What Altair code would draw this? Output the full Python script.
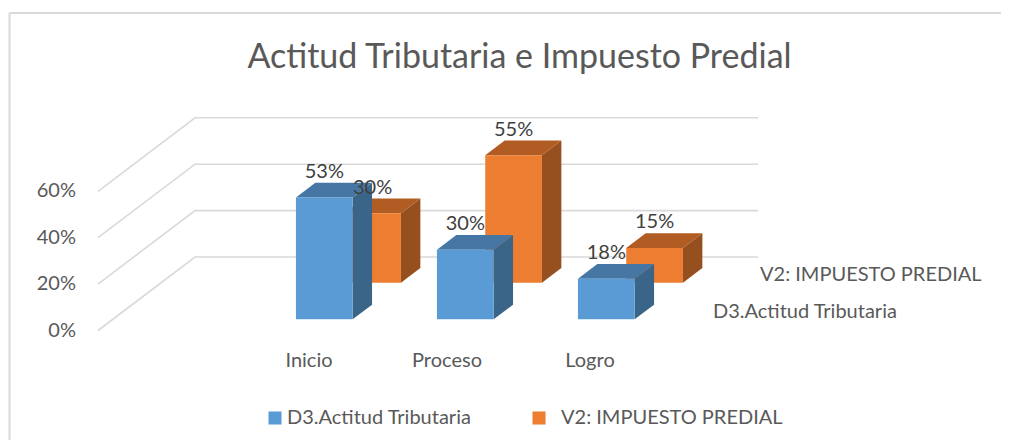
import altair as alt
import pandas as pd

# ---- chart values ----
categories = ["Inicio", "Proceso", "Logro"]
series_names = ["D3.Actitud Tributaria", "V2: IMPUESTO PREDIAL"]
blue_values = [52.5, 30, 17.5]
orange_values = [30, 55, 15]
blue_labels = ["53%", "30%", "18%"]
orange_labels = ["30%", "55%", "15%"]
axis_ticks = [0, 20, 40, 60]
title_text = "Actitud Tributaria e Impuesto Predial"

# ---- layout (screen px of the 1014x448 page, converted into scale units) ----
VIEW_W, VIEW_H = 998, 432
PX_PCT = 2.32        # pixels per percentage point
PX_CAT = 141.0       # pixels per category
X0, Y0 = 98.0, 330.5 # projected origin of the chart box
DEPTH_X, DEPTH_Y = 97.0, 73.5
WALL_RIGHT = 758.0

FRONT = "#5B9BD5", "#ED7D31"
TOPS = "#4676A3", "#B15C22"
SIDES = "#3B6588", "#964F1E"


def ux(px):
    return (px - X0) / PX_CAT


def uy(py):
    return (Y0 - py) / PX_PCT


def project(cat, z, pct):
    return cat + z * DEPTH_X / PX_CAT, pct + z * DEPTH_Y / PX_PCT


xscale = alt.Scale(domain=[ux(8), ux(8 + VIEW_W)], range=[0, VIEW_W], nice=False, zero=False)
yscale = alt.Scale(domain=[uy(8 + VIEW_H), uy(8)], range=[VIEW_H, 0], nice=False, zero=False)
X = alt.X("x:Q", scale=xscale, axis=None)
Y = alt.Y("y:Q", scale=yscale, axis=None)

BAR_W = 56.7 / PX_CAT
LEFT0 = 183.2 / PX_CAT
Z_NEAR = {0: 0.152, 1: 0.65}
Z_DEEP = 0.2

front_rows, side_rows, top_rows = [], [], []
for s, vals in enumerate([blue_values, orange_values]):
    for i, v in enumerate(vals):
        bar = f"{s}-{i}"
        l = LEFT0 + i
        r = l + BAR_W
        z0, z1 = Z_NEAR[s], Z_NEAR[s] + Z_DEEP
        lx, by = project(l, z0, 0)
        rx, ty = project(r, z0, v)
        front_rows.append(dict(s=s, x=lx, x2=rx, y=ty, y2=by, c=FRONT[s]))
        bx1, by1 = project(r, z0, 0)
        bx2, by2 = project(r, z1, 0)
        tx1, ty1 = project(r, z0, v)
        tx2, ty2 = project(r, z1, v)
        side_rows.append(dict(s=s, bar=bar, x=bx1, y=ty1, y2=by1, c=SIDES[s]))
        side_rows.append(dict(s=s, bar=bar, x=bx2, y=ty2, y2=by2, c=SIDES[s]))
        px1, py1 = project(l, z0, v)
        px2, py2 = project(r, z0, v)
        qx1, qy1 = project(l, z1, v)
        qx2, qy2 = project(r, z1, v)
        top_rows.append(dict(s=s, bar=bar, x=px1, x2=px2, y=py1, c=TOPS[s]))
        top_rows.append(dict(s=s, bar=bar, x=qx1, x2=qx2, y=qy1, c=TOPS[s]))

front_df = pd.DataFrame(front_rows)
side_df = pd.DataFrame(side_rows)
top_df = pd.DataFrame(top_rows)

# walls
grid_rows = []
for t in axis_ticks:
    x1, y1 = project(0, 0, t)
    x2, y2 = project(0, 1, t)
    grid_rows += [dict(t=t, k=0, x=x1, y=y1), dict(t=t, k=1, x=x2, y=y2), dict(t=t, k=2, x=ux(WALL_RIGHT), y=y2)]
grid_df = pd.DataFrame(grid_rows)
grid = alt.Chart(grid_df).mark_line(color="#D9D9D9", strokeWidth=1.6).encode(
    x=X, y=Y, detail="t:N", order="k:Q"
)

layers = [grid]
for s in [1, 0]:
    layers.append(
        alt.Chart(side_df[side_df.s == s]).mark_area(orient="vertical", opacity=1).encode(
            x=X, y=Y, y2="y2:Q", detail="bar:N", color=alt.Color("c:N", scale=None)
        )
    )
    layers.append(
        alt.Chart(top_df[top_df.s == s]).mark_area(orient="horizontal", opacity=1).encode(
            x=X, x2="x2:Q", y=Y, detail="bar:N", color=alt.Color("c:N", scale=None)
        )
    )
    layers.append(
        alt.Chart(front_df[front_df.s == s]).mark_rect().encode(
            x=X, x2="x2:Q", y=Y, y2="y2:Q", color=alt.Color("c:N", scale=None)
        )
    )

FONT = "Lato"
# data labels
lab_rows = []
for s, (vals, labs) in enumerate([(blue_values, blue_labels), (orange_values, orange_labels)]):
    for i, (v, t) in enumerate(zip(vals, labs)):
        lx, ly = project(LEFT0 + i + BAR_W / 2, Z_NEAR[s], v + 11)
        lab_rows.append(dict(x=lx, y=ly, t=t))
layers.append(
    alt.Chart(pd.DataFrame(lab_rows)).mark_text(font=FONT, fontSize=20, color="#404040", baseline="middle").encode(
        x=X, y=Y, text="t:N"
    )
)

# value-axis labels
tick_df = pd.DataFrame([dict(x=ux(76), y=uy(330.5) + t, t=f"{t}%") for t in axis_ticks])
layers.append(
    alt.Chart(tick_df).mark_text(font=FONT, fontSize=20, color="#595959", align="right", baseline="middle").encode(
        x=X, y=Y, text="t:N"
    )
)

# category labels
cat_px = [309, 447, 590]
cat_df = pd.DataFrame([dict(x=ux(p), y=uy(361), t=c) for p, c in zip(cat_px, categories)])
layers.append(
    alt.Chart(cat_df).mark_text(font=FONT, fontSize=20, color="#595959", baseline="middle").encode(
        x=X, y=Y, text="t:N"
    )
)

# depth-axis labels
depth_df = pd.DataFrame([
    dict(x=ux(713), y=uy(312), t=series_names[0]),
    dict(x=ux(760), y=uy(275), t=series_names[1]),
])
layers.append(
    alt.Chart(depth_df).mark_text(font=FONT, fontSize=20, color="#595959", align="left", baseline="middle").encode(
        x=X, y=Y, text="t:N"
    )
)

# legend
leg_df = pd.DataFrame([
    dict(x=ux(287), y=uy(418), t=series_names[0], mx=ux(275), c=FRONT[0]),
    dict(x=ux(561), y=uy(418), t=series_names[1], mx=ux(539), c=FRONT[1]),
])
leg_df.loc[1, "x"] = ux(561)
layers.append(
    alt.Chart(leg_df).mark_text(font=FONT, fontSize=20, color="#595959", align="left", baseline="middle").encode(
        x=X, y=Y, text="t:N"
    )
)
layers.append(
    alt.Chart(leg_df).mark_square(size=170, opacity=1).encode(
        x=alt.X("mx:Q", scale=xscale, axis=None), y=Y, color=alt.Color("c:N", scale=None)
    )
)

# title
title_df = pd.DataFrame([dict(x=ux(519.5), y=uy(58), t=title_text)])
layers.append(
    alt.Chart(title_df).mark_text(font=FONT, fontSize=34, color="#595959", baseline="middle").encode(
        x=X, y=Y, text="t:N"
    )
)

# chart-area border (top and left)
border_df = pd.DataFrame([
    dict(x=ux(9.5), x2=ux(1001), y=uy(13), y2=uy(13)),
    dict(x=ux(9.5), x2=ux(9.5), y=uy(13), y2=uy(448)),
])
layers.append(
    alt.Chart(border_df).mark_rule(color="#D9D9D9", strokeWidth=2, clip=True).encode(
        x=X, x2="x2:Q", y=Y, y2="y2:Q"
    )
)

chart = (
    alt.layer(*layers)
    .properties(width=VIEW_W, height=VIEW_H, padding=0, background="white")
    .configure_view(stroke=None)
)
chart.save("out.html", embed_options={"renderer": "svg", "actions": False})
